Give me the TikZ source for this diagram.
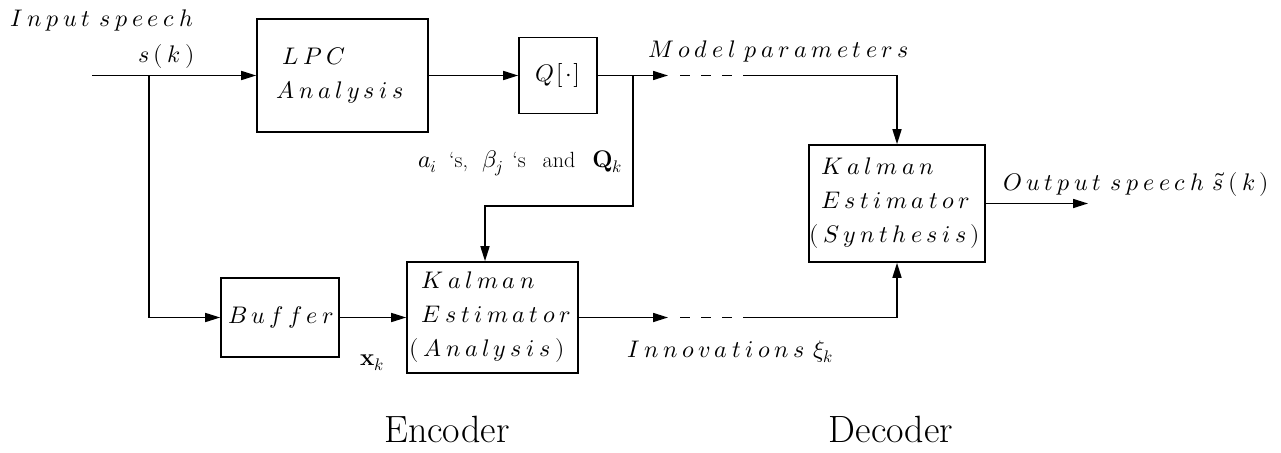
\documentclass[tikz,border=0pt]{standalone}
\usepackage{fontspec}
\usepackage{unicode-math}
\setmathfont{Latin Modern Math}
\usetikzlibrary{arrows.meta,calc}
\makeatletter
\def\lsp#1{\lsp@#1\relax}
\def\lsp@#1{\ifx#1\relax\else#1\kern4.5pt\expandafter\lsp@\fi}
\makeatother
\newcommand\romtxt{\fontsize{22}{24}\selectfont}
\tikzset{
  every picture/.style={x=1pt,y=-1pt},
  conn/.style={line width=1.6pt},
  arr/.style={conn,-{Triangle[length=15pt,width=9pt]}},
  dsh/.style={conn,dash pattern=on 10pt off 11pt},
  box/.style={draw,line width=1.6pt,inner sep=0pt,
    font=\fontsize{24}{34}\selectfont},
  lab/.style={anchor=base west,inner sep=0pt,
    font=\fontsize{24}{28}\selectfont},
  big/.style={anchor=base,inner sep=0pt,font=\fontsize{38}{40}\selectfont}
}
\begin{document}
\begin{tikzpicture}
\useasboundingbox (0,0) rectangle (1281,452);
% boxes
\node[box,minimum width=171pt,minimum height=113pt,align=left] (lpc) at (342.5,75.5)
  {\hspace*{6pt}$\lsp{LPC}$\\$\lsp{Analysis}$};
\node[box,minimum width=78pt,minimum height=76pt] (q) at (558,75.5) {$Q\kern2pt[\kern2pt\cdot\kern2pt]$};
\node[box,minimum width=176pt,minimum height=117pt,align=left] (syn) at (897,203.5)
  {\hspace*{12pt}$\lsp{Kalman}$\\\hspace*{12pt}$\lsp{Estimator}$\\$\lsp{(Synthesis)}$};
\node[box,minimum width=118pt,minimum height=79pt] (buf) at (280,317.5) {\hspace*{6pt}$\lsp{Buffer}$};
\node[box,minimum width=171pt,minimum height=111pt,align=left] (ana) at (492.5,317.5)
  {\hspace*{12pt}$\lsp{Kalman}$\\\hspace*{12pt}$\lsp{Estimator}$\\$\lsp{(Analysis)}$};
% coordinates
\coordinate (in) at (92,75.5);
\coordinate (b1) at (149,75.5);
\coordinate (b2) at (633,75.5);
\coordinate (mpa) at (668,75.5);
\coordinate (mpb) at (680,75.5);
\coordinate (mpd) at (743,75.5);
\coordinate (fb) at (485,206);
\coordinate (ia) at (668,317.5);
\coordinate (ib) at (680,317.5);
\coordinate (id) at (743,317.5);
\coordinate (out) at (1088,203.5);
% connectors
\draw[arr] (in) -- (lpc.west);
\draw[arr] (b1) |- (buf.west);
\draw[arr] (lpc.east) -- (q.west);
\draw[arr] (q.east) -- (mpa);
\draw[dsh] (mpb) -- (mpd);
\draw[arr] (mpd) -| (syn.north);
\draw[arr] (b2) |- (fb) -- (fb |- ana.north);
\draw[arr] (buf.east) -- (ana.west);
\draw[arr] (ana.east) -- (ia);
\draw[dsh] (ib) -- (id);
\draw[arr] (id) -| (syn.south);
\draw[arr] (syn.east) -- (out);
% labels
\node[lab] (tin) at (10,27) {$\lsp{Input}\kern5pt\lsp{speech}$};
\node[lab] (tsk) at (138,63) {$\lsp{s(k)}$};
\node[lab] (tmp) at (648,57) {$\lsp{Model}\kern5pt\lsp{parameters}$};
\node[lab] (tai) at (418,167) {$a_i$\hspace{12pt}{\romtxt`s,}\hspace{14pt}$\beta_j$\hspace{9pt}{\romtxt`s}\hspace{17pt}{\romtxt and}\hspace{17pt}$\mathbf{Q}_k$};
\node[lab] (tout) at (1003,190) {$\lsp{Output}\kern5pt\lsp{speech}\kern4pt\tilde{s}\kern4.5pt\lsp{(k)}$};
\node[lab] (tinn) at (627,357) {$\lsp{Innovations}\kern4pt\xi_k$};
\node[lab] (txk) at (360,365) {$\mathbf{x}_k$};
\node[big] (enc) at (447,442) {Encoder};
\node[big] (dec) at (891,442) {Decoder};
\end{tikzpicture}
\end{document}
